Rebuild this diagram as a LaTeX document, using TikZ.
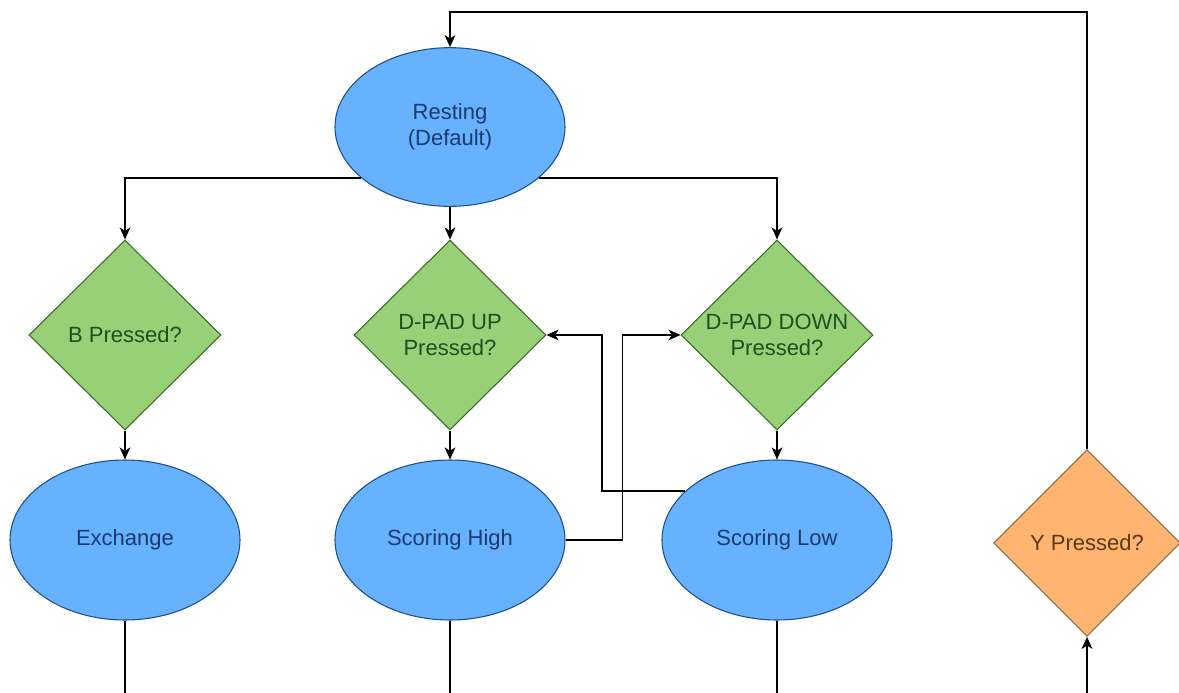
\documentclass[tikz,border=0pt]{standalone}
\usepackage{fontspec}
\setmainfont{Liberation Sans}
\usetikzlibrary{shapes.geometric,arrows.meta}
\definecolor{bfill}{HTML}{66B2FF}
\definecolor{bline}{HTML}{1F4F86}
\definecolor{btext}{HTML}{1C3A6E}
\definecolor{gfill}{HTML}{97D077}
\definecolor{gline}{HTML}{3C6A2A}
\definecolor{gtext}{HTML}{1E4F1E}
\definecolor{ofill}{HTML}{FFB570}
\definecolor{oline}{HTML}{8A6A4A}
\definecolor{otext}{HTML}{5A3A1E}
\tikzset{
  state/.style={ellipse, draw=bline, fill=bfill, line width=0.8pt, inner sep=0pt,
    minimum width=172.5pt, minimum height=119pt, text=btext, align=center,
    font=\fontsize{16.5}{19.5}\selectfont},
  dia/.style={diamond, draw=gline, fill=gfill, line width=0.8pt, inner sep=0pt,
    minimum width=144pt, minimum height=142.5pt},
  ydia/.style={diamond, draw=oline, fill=ofill, line width=0.8pt, inner sep=0pt,
    minimum width=140pt, minimum height=140pt},
  gtxt/.style={text=gtext, align=center, font=\fontsize{16.5}{19.5}\selectfont},
  otxt/.style={text=otext, align=center, font=\fontsize{16.5}{19.5}\selectfont},
  conn/.style={line width=1.1pt, black},
  arr/.style={conn, -{Stealth[length=9pt, width=8pt, inset=2.5pt]}}
}
\begin{document}
\begin{tikzpicture}[x=0.75pt, y=-0.75pt]
\useasboundingbox (0,0) rectangle (1179,693);
\coordinate (bot) at (0,693);
\coordinate (topln) at (0,12);
% nodes
\node[state] (rest) at (450,127) {Resting\\(Default)};
\node[dia, label={[gtxt]center:B Pressed?}] (bp) at (125,335) {};
\node[dia, label={[gtxt]center:D-PAD UP\\Pressed?}] (up) at (450,335) {};
\node[dia, label={[gtxt]center:D-PAD DOWN\\Pressed?}] (dn) at (777,335) {};
\node[state, minimum height=120pt] (ex) at (125,540) {Exchange};
\node[state, minimum height=120pt] (sh) at (450,540) {Scoring High};
\node[state, minimum height=120pt] (sl) at (777,540) {Scoring Low};
\node[ydia, label={[otxt]center:Y Pressed?}] (yp) at (1087,543) {};
% connectors
\draw[arr] (rest.210) -| (bp.north);
\draw[arr] (rest.south) -- (up.north);
\draw[arr] (rest.330) -| (dn.north);
\draw[arr] (bp.south) -- (ex.north);
\draw[arr] (up.south) -- (sh.north);
\draw[arr] (dn.south) -- (sl.north);
\draw[arr] (sh.east) -- ++(57,0) |- (dn.west);
\draw[arr] (sl.152) -- ++(-83,0) |- (up.east);
\draw[conn] (ex.south) -- (ex.south |- bot);
\draw[conn] (sh.south) -- (sh.south |- bot);
\draw[conn] (sl.south) -- (sl.south |- bot);
\draw[arr] (yp.south |- bot) -- (yp.south);
\draw[arr] (yp.north) -- (yp.north |- topln) -| (rest.north);
\end{tikzpicture}
\end{document}
